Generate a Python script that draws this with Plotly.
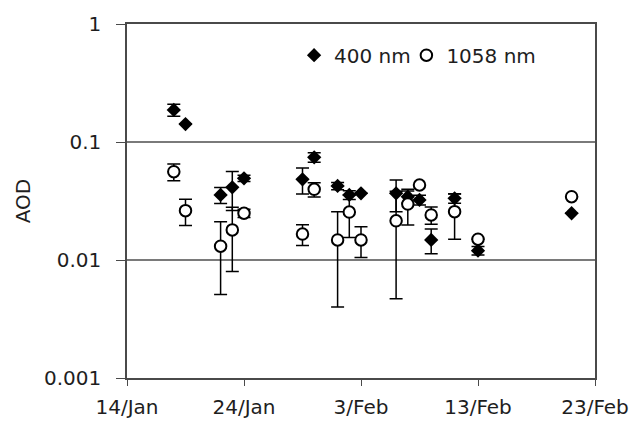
import plotly.graph_objects as go

# Aerosol optical depth, daily means with standard deviation
dates_400 = ["2001-01-18", "2001-01-19", "2001-01-22", "2001-01-23", "2001-01-24",
             "2001-01-29", "2001-01-30", "2001-02-01", "2001-02-02", "2001-02-03",
             "2001-02-06", "2001-02-07", "2001-02-08", "2001-02-09", "2001-02-11",
             "2001-02-13", "2001-02-21"]
aod_400 = [0.187, 0.142, 0.0356, 0.0413, 0.0492,
           0.0483, 0.0742, 0.0424, 0.0356, 0.0367,
           0.0367, 0.0344, 0.0323, 0.0148, 0.0333,
           0.0120, 0.0249]
err_400 = [0.022, 0.0, 0.0055, 0.015, 0.003,
           0.012, 0.007, 0.003, 0.003, 0.0,
           0.011, 0.004, 0.003, 0.0035, 0.003,
           0.001, 0.0]

dates_1058 = ["2001-01-18", "2001-01-19", "2001-01-22", "2001-01-23", "2001-01-24",
              "2001-01-29", "2001-01-30", "2001-02-01", "2001-02-02", "2001-02-03",
              "2001-02-06", "2001-02-07", "2001-02-08", "2001-02-09", "2001-02-11",
              "2001-02-13", "2001-02-21"]
aod_1058 = [0.056, 0.0262, 0.0131, 0.0180, 0.0249,
            0.0166, 0.0397, 0.0148, 0.0255, 0.0148,
            0.0215, 0.0298, 0.0432, 0.0241, 0.0257,
            0.0150, 0.0344]
err_1058 = [0.009, 0.0066, 0.008, 0.010, 0.002,
            0.0033, 0.0055, 0.0108, 0.010, 0.0043,
            0.0168, 0.010, 0.0, 0.004, 0.0107,
            0.0, 0.0]

y_ticks = [0.001, 0.01, 0.1, 1]
y_tick_text = ["0.001", "0.01", "0.1", "1"]

FONT = "DejaVu Sans"
INK = "#1e1e1e"
AXIS = "#4a4a4a"

fig = go.Figure()

fig.add_trace(go.Scatter(
    x=dates_400, y=aod_400, mode="markers", name="400 nm", legend="legend",
    marker=dict(symbol="diamond", size=11, color="black"),
    error_y=dict(type="data", array=err_400, visible=True,
                 color="black", thickness=1.5, width=6.5),
))

fig.add_trace(go.Scatter(
    x=dates_1058, y=aod_1058, mode="markers", name="1058 nm", legend="legend2",
    marker=dict(symbol="circle", size=11.5, color="white",
                line=dict(color="black", width=2)),
    error_y=dict(type="data", array=err_1058, visible=True,
                 color="black", thickness=1.5, width=6.5),
))

legend_style = dict(orientation="h", y=0.912, xanchor="left", yanchor="middle",
                    bgcolor="rgba(0,0,0,0)", font=dict(size=20, color=INK),
                    itemwidth=30)

fig.update_layout(
    width=636, height=423,
    margin=dict(l=127, r=41, t=24, b=45),
    paper_bgcolor="white", plot_bgcolor="white",
    font=dict(family=FONT, size=20, color=INK),
    showlegend=True,
    legend=dict(x=0.357, **legend_style),
    legend2=dict(x=0.597, **legend_style),
)

fig.update_xaxes(
    type="date",
    automargin=False,
    range=["2001-01-14", "2001-02-23"],
    tick0="2001-01-14", dtick=10 * 24 * 3600 * 1000,
    tickformat="%-d/%b",
    ticks="outside", ticklen=6, tickcolor=AXIS,
    ticklabelstandoff=4,
    showline=True, linecolor=AXIS, linewidth=1.5, mirror=True,
    showgrid=False, zeroline=False,
    tickfont=dict(size=20, color=INK),
)

fig.update_yaxes(
    type="log",
    automargin=False,
    range=[-3, 0],
    tickvals=y_ticks, ticktext=y_tick_text,
    ticks="outside", ticklen=9, tickcolor=AXIS,
    ticklabelstandoff=11,
    showline=True, linecolor=AXIS, linewidth=1.5, mirror=True,
    showgrid=True, gridcolor="#7a7a7a", gridwidth=1.5,
    zeroline=False,
    tickfont=dict(size=20, color=INK),
    title=dict(text="AOD", standoff=8, font=dict(size=20, color=INK)),
)

fig.write_html("out.html")
